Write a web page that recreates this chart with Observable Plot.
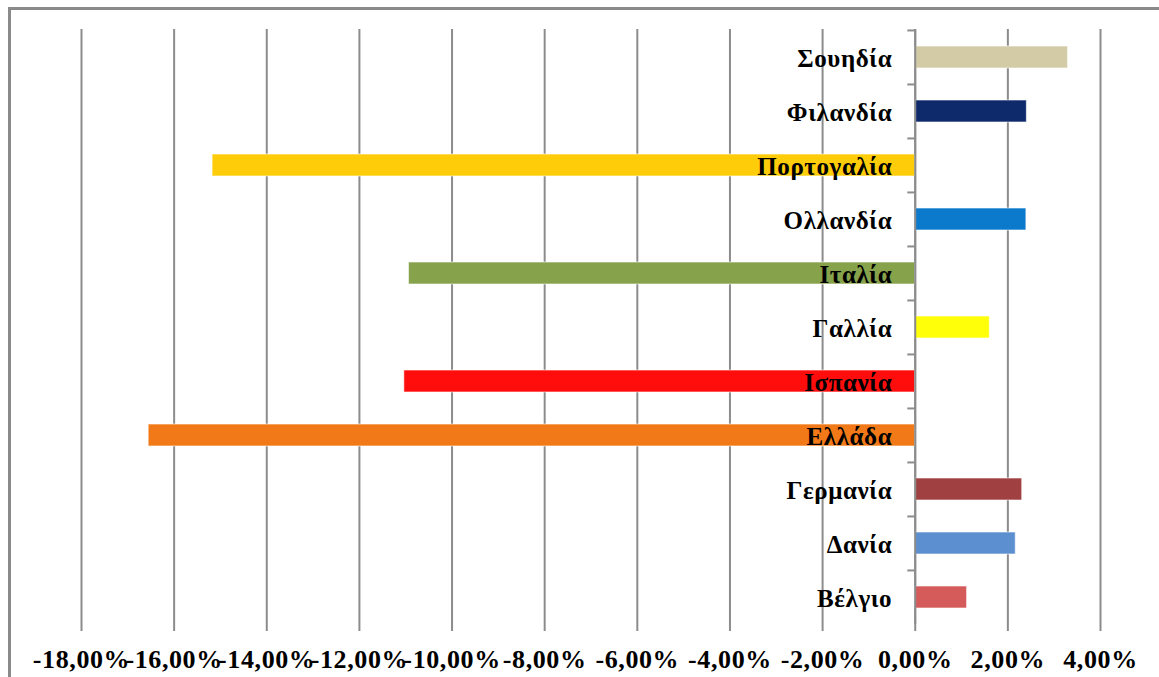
<!DOCTYPE html>
<html>
<head>
<meta charset="utf-8">
<script src="https://cdn.jsdelivr.net/npm/d3@7"></script>
<script src="https://cdn.jsdelivr.net/npm/@observablehq/plot@0.6"></script>
<style>
  html, body { margin: 0; padding: 0; background: #fff; }
  #wrap { position: relative; width: 1159px; height: 677px; overflow: hidden; }
  #frame {
    position: absolute; left: 8px; top: 7px; width: 1200px; height: 720px;
    border-left: 3px solid #8a8a8a; border-top: 3px solid #8a8a8a; box-sizing: border-box;
  }
  #chart { position: absolute; left: 0; top: 0; }
  #chart svg text { letter-spacing: 0.6px; }
</style>
</head>
<body>
<div id="wrap"><div id="frame"></div><div id="chart"></div></div>
<script>
// Countries, listed top to bottom
const countries = ["Σουηδία", "Φιλανδία", "Πορτογαλία", "Ολλανδία", "Ιταλία", "Γαλλία",
                   "Ισπανία", "Ελλάδα", "Γερμανία", "Δανία", "Βέλγιο"];
// Change in percent
const values = [3.30, 2.41, -15.17, 2.40, -10.93, 1.61, -11.03, -16.55, 2.31, 2.17, 1.12];
// Bar colours per country
const colors = ["#d3cba5", "#0f2a6b", "#ffcc0a", "#0b79cc", "#86a24b", "#ffff0a",
                "#ff0d0d", "#f27918", "#a14040", "#5b8fd0", "#d55b5b"];
// Horizontal axis ticks
const xTicks = [-18, -16, -14, -12, -10, -8, -6, -4, -2, 0, 2, 4];

const data = countries.map((c, i) => ({country: c, value: values[i], color: colors[i]}));

const W = 1159, H = 677;
const mTop = 29, mBottom = 53, mLeft = 81, mRight = 59;
const step = (H - mTop - mBottom) / countries.length;
const grid = "#8c8c8c";
const fmt = d => (d < 0 ? "-" : "") + Math.abs(d).toFixed(2).replace(".", ",") + "%";

const chart = Plot.plot({
  width: W,
  height: H,
  marginTop: mTop,
  marginBottom: mBottom,
  marginLeft: mLeft,
  marginRight: mRight,
  style: {fontFamily: "'Liberation Serif', 'Times New Roman', serif", background: "transparent"},
  x: {domain: [-18, 4], ticks: xTicks, tickFormat: fmt, label: null},
  y: {domain: countries, paddingInner: 0.6, paddingOuter: 0.3, axis: null},
  marks: [
    // vertical gridlines
    Plot.ruleX(xTicks, {x: d => d, stroke: grid, strokeWidth: 2}),
    // horizontal axis line
    Plot.ruleY([0], {frameAnchor: "bottom", x1: -18, x2: 4, stroke: grid, strokeWidth: 2}),
    Plot.axisX({
      ticks: xTicks, tickFormat: fmt, tickSize: 7, tickPadding: 18, label: null,
      stroke: grid, strokeWidth: 2,
      fontSize: 26, fontWeight: "bold", fill: "#000"
    }),
    // category separators on the zero axis
    Plot.ruleY(countries, {y: d => d, x1: -0.16, x2: 0, dy: -step / 2, stroke: grid, strokeWidth: 2}),
    Plot.barX(data, {
      y: "country", x1: 0, x2: "value", fill: "color",
      stroke: "#ffffff", strokeOpacity: 0.6, strokeWidth: 1
    }),
    // vertical zero axis
    Plot.ruleX([0], {stroke: grid, strokeWidth: 2}),
    Plot.text(data, {
      y: "country", x: 0, text: "country", textAnchor: "end", dx: -23, dy: 1,
      fontSize: 25, fontWeight: "bold", fill: "#000"
    })
  ]
});

document.getElementById("chart").append(chart);
</script>
</body>
</html>
